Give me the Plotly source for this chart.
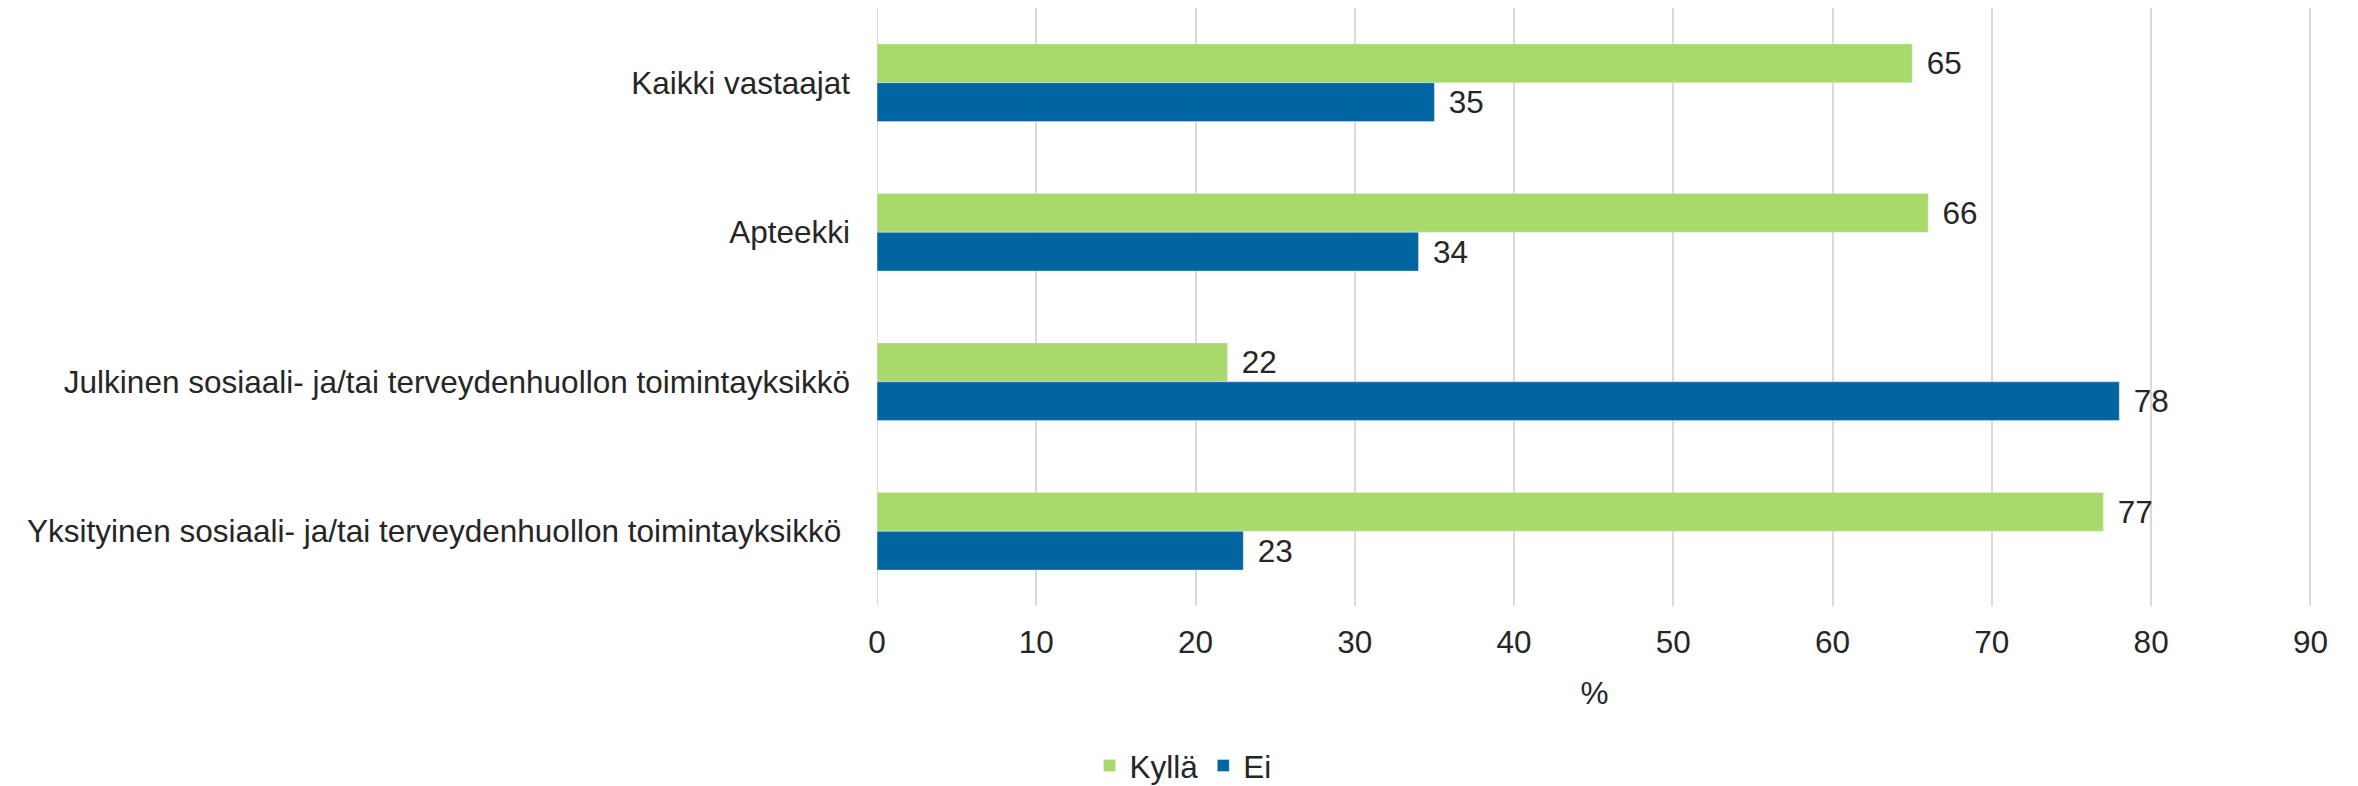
import plotly.graph_objects as go

categories = [
    "Kaikki vastaajat",
    "Apteekki",
    "Julkinen sosiaali- ja/tai terveydenhuollon toimintayksikkö",
    "Yksityinen sosiaali- ja/tai terveydenhuollon toimintayksikkö ",
]
kylla = [65, 66, 22, 77]
ei = [35, 34, 78, 23]
x_ticks = [0, 10, 20, 30, 40, 50, 60, 70, 80, 90]

FONT = "Liberation Sans, Arial, sans-serif"
FS = 31.5
TXT = "#262626"

fig = go.Figure()
fig.add_trace(go.Bar(
    y=categories, x=kylla, name="Kyllä", orientation="h",
    marker=dict(color="#A9D96A"),
    texttemplate=" \u200a%{x}", textposition="outside",
    textfont=dict(family=FONT, size=FS, color=TXT), cliponaxis=False,
))
fig.add_trace(go.Bar(
    y=categories, x=ei, name="Ei", orientation="h",
    marker=dict(color="#0065A0"),
    texttemplate=" \u200a%{x}", textposition="outside",
    textfont=dict(family=FONT, size=FS, color=TXT), cliponaxis=False,
))

fig.update_layout(
    width=2350, height=778,
    barmode="group", bargap=0.48, bargroupgap=0,
    plot_bgcolor="white", paper_bgcolor="white",
    font=dict(family=FONT, size=FS, color=TXT),
    margin=dict(l=869, r=46, t=0, b=180, autoexpand=False),
    showlegend=True,
    legend=dict(orientation="h", xref="container", yref="paper",
                x=0.5, xanchor="center", y=-0.312, yanchor="bottom",
                font=dict(family=FONT, size=FS, color=TXT),
                itemwidth=30, traceorder="normal"),
    xaxis=dict(range=[0, 90.1], tickvals=x_ticks, showgrid=True,
               gridcolor="#D9D9D9", gridwidth=2, zeroline=False,
               showline=False, ticks="", ticklabelstandoff=14,
               title=dict(text="%", standoff=23,
                          font=dict(family=FONT, size=FS, color=TXT)),
               fixedrange=True),
    yaxis=dict(autorange="reversed", showgrid=False, showline=False,
               ticks="", ticklabelstandoff=26, automargin=False),
)
fig.add_vline(x=0, line=dict(color="#D9D9D9", width=2), layer="below")

fig.write_html("out.html")
